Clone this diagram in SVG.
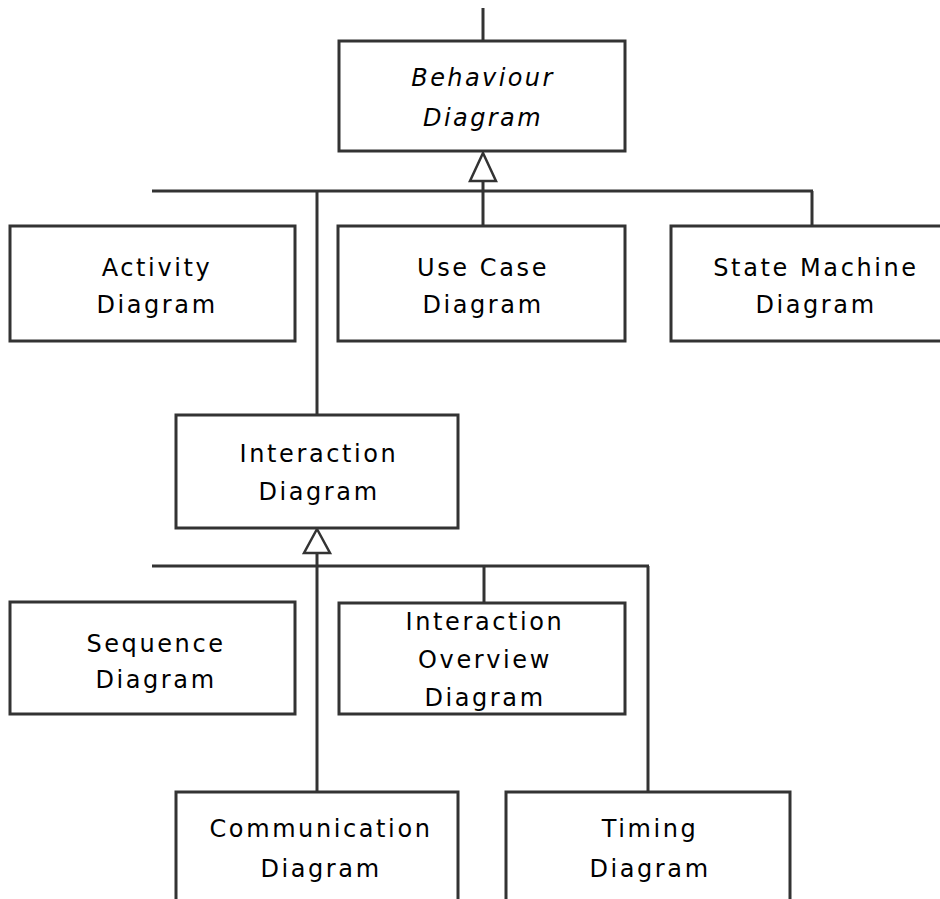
<svg xmlns="http://www.w3.org/2000/svg" width="940" height="899" viewBox="0 0 940 899">
  <style>
    .box { fill: #ffffff; stroke: #333333; stroke-width: 3; }
    .wire { fill: none; stroke: #333333; stroke-width: 3; }
    .head { fill: #ffffff; stroke: #333333; stroke-width: 2.5; stroke-linejoin: miter; }
    .label { font-family: "DejaVu Sans", "Liberation Sans", sans-serif; font-size: 24px; letter-spacing: 2.6px; fill: #000000; text-anchor: middle; }
    .abstract { font-style: italic; letter-spacing: 2.4px; }
  </style>
  <rect width="940" height="899" fill="#ffffff"/>

  <!-- generalisation connectors -->
  <g id="connectors">
    <line class="wire" x1="483" y1="8" x2="483" y2="41"/>
    <line class="wire" x1="483" y1="181" x2="483" y2="226"/>
    <line class="wire" x1="152" y1="191" x2="813" y2="191"/>
    <line class="wire" x1="317" y1="191" x2="317" y2="415"/>
    <line class="wire" x1="812" y1="191" x2="812" y2="226"/>
    <polygon class="head" points="483,153 496,181 470,181"/>

    <line class="wire" x1="152" y1="566" x2="649" y2="566"/>
    <line class="wire" x1="317" y1="553" x2="317" y2="792"/>
    <line class="wire" x1="484" y1="566" x2="484" y2="603"/>
    <line class="wire" x1="648" y1="566" x2="648" y2="792"/>
    <polygon class="head" points="317,529 330,553 304,553"/>
  </g>

  <g id="behaviour">
    <rect class="box" x="339" y="41" width="286" height="110"/>
    <text class="label abstract" x="483" y="86">Behaviour</text>
    <text class="label abstract" x="483" y="126">Diagram</text>
  </g>

  <g id="activity">
    <rect class="box" x="10" y="226" width="285" height="115"/>
    <text class="label" x="157" y="276">Activity</text>
    <text class="label" x="157" y="313">Diagram</text>
  </g>

  <g id="use-case">
    <rect class="box" x="338" y="226" width="287" height="115"/>
    <text class="label" x="483" y="276">Use Case</text>
    <text class="label" x="483" y="313">Diagram</text>
  </g>

  <g id="state-machine">
    <rect class="box" x="671" y="226" width="290" height="115"/>
    <text class="label" x="816" y="276">State Machine</text>
    <text class="label" x="816" y="313">Diagram</text>
  </g>

  <g id="interaction">
    <rect class="box" x="176" y="415" width="282" height="113"/>
    <text class="label" x="319" y="462">Interaction</text>
    <text class="label" x="319" y="500">Diagram</text>
  </g>

  <g id="sequence">
    <rect class="box" x="10" y="602" width="285" height="112"/>
    <text class="label" x="156" y="652">Sequence</text>
    <text class="label" x="156" y="688">Diagram</text>
  </g>

  <g id="interaction-overview">
    <rect class="box" x="339" y="603" width="286" height="111"/>
    <text class="label" x="485" y="630">Interaction</text>
    <text class="label" x="485" y="668">Overview</text>
    <text class="label" x="485" y="706">Diagram</text>
  </g>

  <g id="communication">
    <rect class="box" x="176" y="792" width="282" height="130"/>
    <text class="label" x="321" y="837">Communication</text>
    <text class="label" x="321" y="877">Diagram</text>
  </g>

  <g id="timing">
    <rect class="box" x="506" y="792" width="284" height="130"/>
    <text class="label" x="650" y="837">Timing</text>
    <text class="label" x="650" y="877">Diagram</text>
  </g>
</svg>
